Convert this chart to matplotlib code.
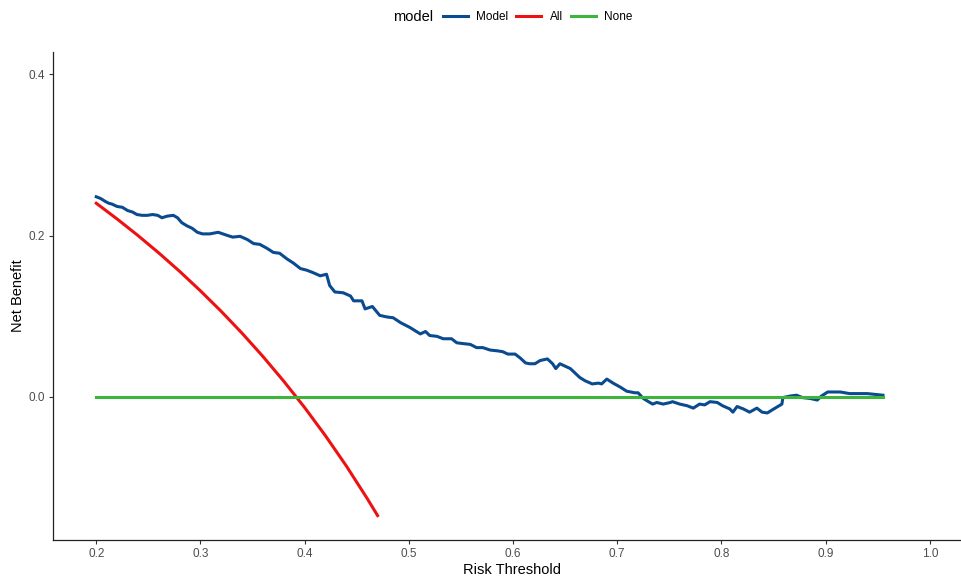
import matplotlib
matplotlib.use("Agg")
import matplotlib.pyplot as plt

plt.rcParams['font.family'] = ['Liberation Sans', 'DejaVu Sans']

# Model net benefit
model_thr = [0.200, 0.204, 0.209, 0.212, 0.215, 0.220, 0.225, 0.230, 0.235, 0.239,
             0.244, 0.249, 0.254, 0.259, 0.263, 0.268, 0.274, 0.278, 0.282, 0.287,
             0.292, 0.297, 0.302, 0.309, 0.317, 0.326, 0.331, 0.338, 0.345, 0.351,
             0.357, 0.364, 0.370, 0.376, 0.383, 0.389, 0.396, 0.402, 0.408, 0.415,
             0.421, 0.424, 0.429, 0.437, 0.444, 0.447, 0.455, 0.458, 0.465, 0.472,
             0.479, 0.485, 0.492, 0.501, 0.511, 0.516, 0.520, 0.527, 0.533, 0.541,
             0.546, 0.552, 0.559, 0.565, 0.571, 0.578, 0.585, 0.590, 0.595, 0.602,
             0.607, 0.612, 0.616, 0.621, 0.626, 0.633, 0.638, 0.641, 0.645, 0.655,
             0.664, 0.669, 0.676, 0.682, 0.685, 0.690, 0.696, 0.703, 0.709, 0.717,
             0.720, 0.725, 0.730, 0.734, 0.738, 0.744, 0.751, 0.753, 0.760, 0.767,
             0.773, 0.779, 0.784, 0.789, 0.796, 0.801, 0.808, 0.811, 0.815, 0.821,
             0.827, 0.834, 0.839, 0.844, 0.849, 0.858, 0.859, 0.866, 0.872, 0.878,
             0.885, 0.892, 0.896, 0.902, 0.914, 0.923, 0.940, 0.955]
model_nb = [0.248, 0.246, 0.242, 0.240, 0.239, 0.236, 0.235, 0.231, 0.229, 0.226,
            0.225, 0.225, 0.226, 0.225, 0.222, 0.224, 0.225, 0.222, 0.216, 0.212,
            0.209, 0.204, 0.202, 0.202, 0.204, 0.200, 0.198, 0.199, 0.195, 0.190,
            0.189, 0.184, 0.179, 0.178, 0.171, 0.166, 0.159, 0.157, 0.154, 0.150,
            0.152, 0.138, 0.130, 0.129, 0.125, 0.119, 0.119, 0.109, 0.112, 0.101,
            0.099, 0.098, 0.092, 0.086, 0.078, 0.081, 0.076, 0.075, 0.072, 0.072,
            0.067, 0.066, 0.065, 0.061, 0.061, 0.058, 0.057, 0.056, 0.053, 0.053,
            0.048, 0.042, 0.041, 0.041, 0.045, 0.047, 0.041, 0.035, 0.041, 0.035,
            0.024, 0.020, 0.016, 0.017, 0.016, 0.022, 0.017, 0.012, 0.007, 0.005,
            0.005, -0.002, -0.006, -0.009, -0.007, -0.009, -0.007, -0.006, -0.009, -0.011,
            -0.014, -0.009, -0.010, -0.006, -0.007, -0.011, -0.015, -0.019, -0.012, -0.015,
            -0.019, -0.014, -0.019, -0.020, -0.016, -0.009, -0.001, 0.001, 0.002, -0.001,
            -0.002, -0.004, 0.001, 0.006, 0.006, 0.004, 0.004, 0.002]

# Treat-all curve
all_thr = [0.20, 0.22, 0.24, 0.26, 0.28, 0.30, 0.32, 0.34, 0.36, 0.38, 0.40, 0.42, 0.44, 0.46, 0.47]
all_nb = [0.240, 0.2205, 0.200, 0.1784, 0.1556, 0.1314, 0.1059, 0.0788, 0.050, 0.0193,
          -0.0133, -0.0483, -0.0857, -0.126, -0.1472]

# Treat-none curve
none_thr = [0.200, 0.955]
none_nb = [0.0, 0.0]

fig = plt.figure(figsize=(9.61, 5.78), dpi=100)
ax = fig.add_axes([53 / 961, 38 / 578, 918 / 961, 488 / 578])

ax.plot(model_thr, model_nb, color='#0A4A8E', lw=2.2, label='Model', solid_joinstyle='round')
ax.plot(all_thr, all_nb, color='#EE1111', lw=2.2, label='All')
ax.plot(none_thr, none_nb, color='#3DB53D', lw=2.2, label='None')

ax.set_xlim(0.1585, 1.0395)
ax.set_ylim(-0.1775, 0.4275)
ax.set_xticks([0.2, 0.3, 0.4, 0.5, 0.6, 0.7, 0.8, 0.9, 1.0])
ax.set_yticks([0.0, 0.2, 0.4])
ax.set_xticklabels(['0.2', '0.3', '0.4', '0.5', '0.6', '0.7', '0.8', '0.9', '1.0'])
ax.set_yticklabels(['0.0', '0.2', '0.4'])
ax.tick_params(axis='both', length=3, width=0.8, color='#333333',
               labelcolor='#4D4D4D', labelsize=8.5, pad=3)

for side in ['top', 'right']:
    ax.spines[side].set_visible(False)
for side in ['left', 'bottom']:
    ax.spines[side].set_color('#222222')
    ax.spines[side].set_linewidth(0.9)

ax.set_xlabel('Risk Threshold', fontsize=10.5, labelpad=2)
ax.set_ylabel('Net Benefit', fontsize=10.5, labelpad=2)

# legend on top, title to the left like ggplot
fig.text(393 / 961, 1 - 17 / 578, 'model', fontsize=10.5, va='center', ha='left')
fig.legend(loc='center left', bbox_to_anchor=(443 / 961, 1 - 17 / 578), ncol=3,
           frameon=False, fontsize=8.5, handlelength=2.1, handletextpad=0.7,
           columnspacing=0.7, borderpad=0, borderaxespad=0)

fig.savefig('out.png', dpi=100)
